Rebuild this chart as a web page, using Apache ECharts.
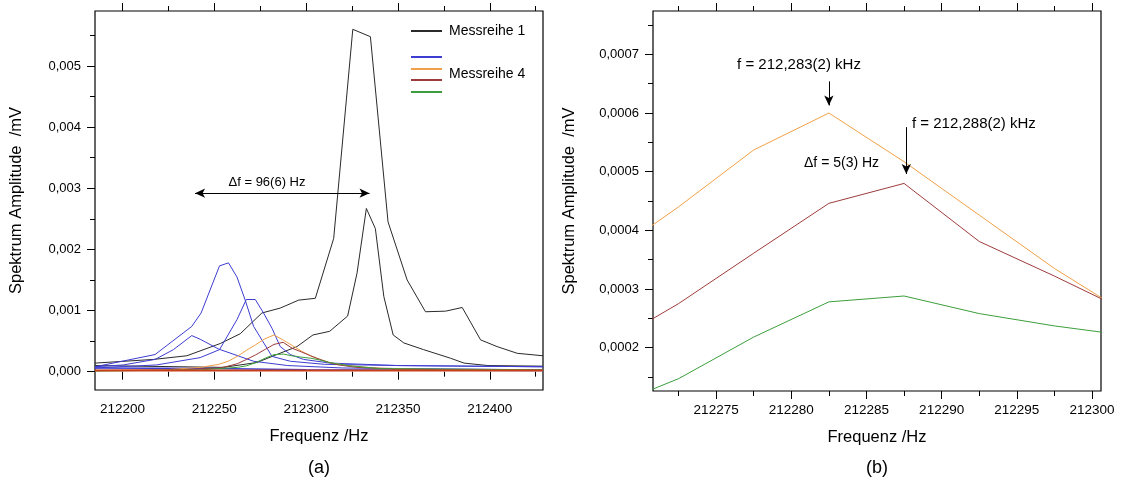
<!DOCTYPE html>
<html>
<head>
<meta charset="utf-8">
<title>Spektrum Amplitude</title>
<script src="https://cdn.jsdelivr.net/npm/echarts@6/dist/echarts.min.js"></script>
<style>
  html, body { margin: 0; padding: 0; background: #fff; }
  #main { width: 1123px; height: 481px; }
</style>
</head>
<body>
<div id="main"></div>
<script>
// Messreihe 1 (schwarz, grosser Peak)
const black1Freq = [212185, 212216.8, 212235, 212253.2, 212264.1, 212275.9, 212285.9, 212295.9, 212305, 212315, 212325.4, 212335, 212344.6, 212355, 212365, 212376, 212385, 212395, 212404, 212415, 212429];
const black1Amp = [0.00014, 0.0002, 0.00026, 0.00046, 0.00062, 0.00096, 0.00104, 0.00117, 0.0012, 0.00218, 0.0056, 0.00548, 0.00245, 0.0015, 0.00098, 0.00099, 0.00105, 0.00052, 0.00041, 0.0003, 0.00026];
// schwarz, zweiter Peak
const black2Freq = [212185, 212255, 212273.2, 212284, 212295, 212303.7, 212312.8, 212322.6, 212327.7, 212332.8, 212337.7, 212342.3, 212347.4, 212353.2, 212364, 212378.6, 212386, 212399, 212429];
const black2Amp = [0.0001, 0.00007, 0.00015, 0.00028, 0.00041, 0.0006, 0.00066, 0.00091, 0.00161, 0.00267, 0.00234, 0.00123, 0.0006, 0.00047, 0.00036, 0.00022, 0.00014, 0.0001, 0.00009];
// blau
const blue1Freq = [212185, 212217.7, 212237.7, 212242.8, 212252.8, 212257.7, 212262.3, 212266.8, 212271.4, 212281.4, 212291.4, 212310, 212350, 212429];
const blue1Amp = [0.00008, 0.00028, 0.00074, 0.00096, 0.00173, 0.00178, 0.00155, 0.00117, 0.00074, 0.00025, 0.00017, 0.00012, 0.0001, 0.00008];
const blue2Freq = [212185, 212218.6, 212242.3, 212252.8, 212262.3, 212267.4, 212272.3, 212276.8, 212281.4, 212285.9, 212291.4, 212298.6, 212313.2, 212350, 212429];
const blue2Amp = [0.00006, 0.00011, 0.00023, 0.00036, 0.00085, 0.00118, 0.00118, 0.00096, 0.00071, 0.00041, 0.00028, 0.0002, 0.00014, 0.0001, 0.00008];
const blue3Freq = [212185, 212200.4, 212217.7, 212227.7, 212237.7, 212242.3, 212252.3, 212271.4, 212290, 212320, 212429];
const blue3Amp = [0.00008, 0.00011, 0.0002, 0.00036, 0.00059, 0.00053, 0.00037, 0.00017, 0.0001, 0.00006, 0.00003];
const blueBaseFreq = [212185, 212250, 212300, 212429];
const blueBaseAmp = [0.00006, 0.00005, 0.00003, 0.00002];
// orange / braun / gruen (auch in (b))
const orangeFreq = [212185, 212222.5, 212242.5, 212252.5, 212257.5, 212262.5, 212267.5, 212272.5, 212277.5, 212282.5, 212287.5, 212292.5, 212297.5, 212302.5, 212307.5, 212312.5, 212322.5, 212337.5, 212360, 212429];
const orangeAmp = [0.00002, 0.00003, 0.00007, 0.00012, 0.00017, 0.00025, 0.00035, 0.00044, 0.000537, 0.0006, 0.000517, 0.000426, 0.000335, 0.000255, 0.0002, 0.00015, 0.0001, 0.00006, 0.00004, 0.00002];
const brownFreq = [212185, 212232.5, 212252.5, 212257.5, 212262.5, 212267.5, 212272.5, 212277.5, 212282.5, 212287.5, 212292.5, 212297.5, 212302.5, 212307.5, 212312.5, 212317.5, 212327.5, 212350, 212429];
const brownAmp = [0.00002, 0.00003, 0.00006, 0.00009, 0.00013, 0.0002, 0.000275, 0.000361, 0.000446, 0.00048, 0.000381, 0.000322, 0.00026, 0.0002, 0.00015, 0.00011, 0.00007, 0.00004, 0.00002];
const greenFreq = [212185, 212242.5, 212252.5, 212257.5, 212262.5, 212267.5, 212272.5, 212277.5, 212282.5, 212287.5, 212292.5, 212297.5, 212302.5, 212307.5, 212312.5, 212322.5, 212340, 212429];
const greenAmp = [0.00001, 0.00003, 0.00005, 0.00006, 0.00007, 0.000095, 0.000147, 0.000218, 0.000278, 0.000288, 0.000258, 0.000237, 0.00022, 0.00019, 0.00015, 0.0001, 0.00005, 0.00003];
const redBaseFreq = [212185, 212429];
const redBaseAmp = [0.00002, 0.00002];

// Achsen (a)
const aFreqRange = [212185, 212429];
const aAmpRange = [-0.0003, 0.0059];
const aFreqTicks = [212200, 212250, 212300, 212350, 212400];
const aFreqMinor = [212225, 212275, 212325, 212375, 212425];
const aAmpTicks = [0, 0.001, 0.002, 0.003, 0.004, 0.005];
const aAmpMinor = [0.0005, 0.0015, 0.0025, 0.0035, 0.0045, 0.0055];
// Achsen (b)
const bFreqRange = [212270.8, 212300.6];
const bAmpRange = [0.000126, 0.000774];
const bFreqTicks = [212275, 212280, 212285, 212290, 212295, 212300];
const bFreqMinor = [212272.5, 212277.5, 212282.5, 212287.5, 212292.5, 212297.5];
const bAmpTicks = [0.0002, 0.0003, 0.0004, 0.0005, 0.0006, 0.0007];
const bAmpMinor = [0.00015, 0.00025, 0.00035, 0.00045, 0.00055, 0.00065, 0.00075];

// Pfeile
const deltaArrowA = [[212239.5, 0.00292], [212334.5, 0.00292]];
const arrowB1 = [[212282.5, 0.000654], [212282.5, 0.000613]];
const arrowB2 = [[212287.65, 0.000576], [212287.65, 0.000496]];

const FONT = 'Liberation Sans, Arial, sans-serif';
const pts = (f, a) => f.map((x, i) => [x, a[i]]);

const tickAxis = (grid, pos, range, values, len) => ({
  type: 'value', gridIndex: grid, position: pos, min: range[0], max: range[1],
  axisLine: { show: false },
  axisTick: { show: true, inside: false, length: len, customValues: values, lineStyle: { color: '#000', width: 1 } },
  axisLabel: { show: false },
  splitLine: { show: false }
});

const mainX = (grid, range, values) => Object.assign(tickAxis(grid, 'bottom', range, values, 8), {
  axisLabel: { show: true, customValues: values, margin: 12, color: '#000', fontFamily: FONT, fontSize: 13.5, formatter: (v) => String(v) },
  name: 'Frequenz /Hz', nameLocation: 'middle', nameGap: 38,
  nameTextStyle: { color: '#000', fontFamily: FONT, fontSize: 16.5 }
});

const mainY = (grid, range, values, digits, gap) => Object.assign(tickAxis(grid, 'left', range, values, 8), {
  axisLabel: { show: true, customValues: values, margin: 14, color: '#000', fontFamily: FONT, fontSize: 13, formatter: (v) => v.toFixed(digits).replace('.', ',') },
  name: 'Spektrum Amplitude  /mV', nameLocation: 'middle', nameGap: gap,
  nameTextStyle: { color: '#000', fontFamily: FONT, fontSize: 16.5 }
});

const line = (name, f, a, color, xi, yi, width) => ({
  name, type: 'line', xAxisIndex: xi, yAxisIndex: yi, data: pts(f, a),
  symbol: 'none', smooth: false, silent: true,
  lineStyle: { color, width: width || 1 }
});

const arrowLine = (pairs, symbols) => ({
  silent: true, animation: false,
  symbol: symbols, symbolSize: [7, 10],
  lineStyle: { color: '#000', width: 1, type: 'solid' },
  itemStyle: { color: '#000' },
  label: { show: false },
  emphasis: { disabled: true },
  data: pairs.map((p) => [{ coord: p[0] }, { coord: p[1] }])
});

const C = { black: '#2a2a2a', blue: '#3d3dd2', orange: '#f0a048', brown: '#9e3c3c', green: '#3c9e3c', red: '#c8401a' };

const myChart = echarts.init(document.getElementById('main'));

const series = [
  Object.assign(line('Messreihe 1', black1Freq, black1Amp, C.black, 0, 0), { markLine: arrowLine([deltaArrowA], ['arrow', 'arrow']) }),
  line('Messreihe 1b', black2Freq, black2Amp, C.black, 0, 0),
  line('blau 1', blue1Freq, blue1Amp, C.blue, 0, 0),
  line('blau 2', blue2Freq, blue2Amp, C.blue, 0, 0),
  line('blau 3', blue3Freq, blue3Amp, C.blue, 0, 0),
  line('blau 0', blueBaseFreq, blueBaseAmp, C.blue, 0, 0, 1.5),
  line('orange', orangeFreq, orangeAmp, C.orange, 0, 0),
  line('Messreihe 4', brownFreq, brownAmp, C.brown, 0, 0),
  line('gruen', greenFreq, greenAmp, C.green, 0, 0),
  line('rot 0', redBaseFreq, redBaseAmp, C.red, 0, 0, 2),
  // (b)
  Object.assign(line('orange b', orangeFreq, orangeAmp, C.orange, 4, 2), { markLine: arrowLine([arrowB1, arrowB2], ['none', 'arrow']) }),
  line('braun b', brownFreq, brownAmp, C.brown, 4, 2),
  line('gruen b', greenFreq, greenAmp, C.green, 4, 2)
];

const legendRows = [
  { y: 31, color: C.black },
  { y: 57, color: C.blue },
  { y: 69, color: C.orange },
  { y: 80, color: C.brown },
  { y: 92, color: C.green }
];

const txt = (x, y, text, size, align) => ({
  type: 'text', left: null, silent: true,
  style: { x, y, text, fill: '#000', font: size + 'px ' + FONT, textAlign: align || 'left', textVerticalAlign: 'middle' }
});

const graphic = [
  ...legendRows.map((r) => ({
    type: 'line', silent: true,
    shape: { x1: 411, y1: r.y, x2: 442, y2: r.y },
    style: { stroke: r.color, lineWidth: 2 }
  })),
  txt(449, 31, 'Messreihe 1', 14),
  txt(449, 74, 'Messreihe 4', 14),
  txt(267, 182, 'Δf = 96(6) Hz', 13, 'center'),
  txt(799, 65, 'f = 212,283(2) kHz', 15, 'center'),
  txt(912, 124, 'f = 212,288(2) kHz', 15),
  txt(804, 163, 'Δf = 5(3) Hz', 14),
  txt(319, 468, '(a)', 18, 'center'),
  txt(877, 468, '(b)', 18, 'center')
];

const option = {
  animation: false,
  backgroundColor: '#fff',
  grid: [
    { left: 95, top: 11, width: 448, height: 379, show: true, borderColor: '#000', borderWidth: 1.2, backgroundColor: 'transparent' },
    { left: 653, top: 11, width: 448, height: 380, show: true, borderColor: '#000', borderWidth: 1.2, backgroundColor: 'transparent' }
  ],
  xAxis: [
    mainX(0, aFreqRange, aFreqTicks),
    tickAxis(0, 'bottom', aFreqRange, aFreqMinor, 5),
    tickAxis(0, 'top', aFreqRange, aFreqTicks, 8),
    tickAxis(0, 'top', aFreqRange, aFreqMinor, 5),
    mainX(1, bFreqRange, bFreqTicks),
    tickAxis(1, 'bottom', bFreqRange, bFreqMinor, 5),
    tickAxis(1, 'top', bFreqRange, bFreqTicks, 8),
    tickAxis(1, 'top', bFreqRange, bFreqMinor, 5)
  ],
  yAxis: [
    mainY(0, aAmpRange, aAmpTicks, 3, 70),
    tickAxis(0, 'left', aAmpRange, aAmpMinor, 5),
    mainY(1, bAmpRange, bAmpTicks, 4, 75),
    tickAxis(1, 'left', bAmpRange, bAmpMinor, 5)
  ],
  series,
  graphic
};

option && myChart.setOption(option);
</script>
</body>
</html>
